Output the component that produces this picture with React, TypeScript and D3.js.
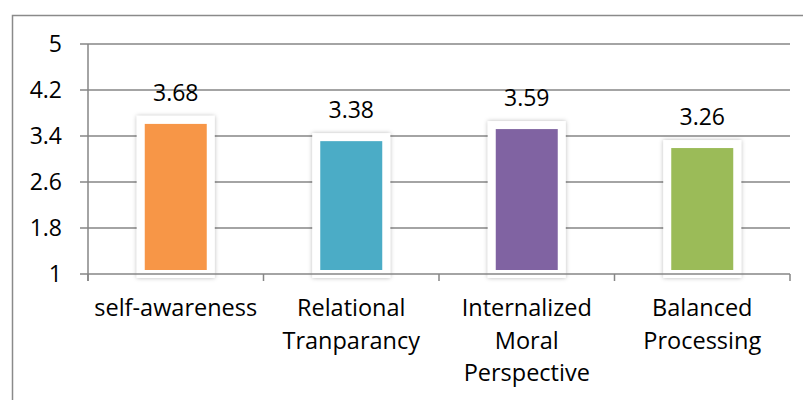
import React from "react";
import * as d3 from "d3";

const categories: string[][] = [
  ["self-awareness"],
  ["Relational", "Tranparancy"],
  ["Internalized", "Moral", "Perspective"],
  ["Balanced", "Processing"],
];
const values: number[] = [3.68, 3.38, 3.59, 3.26];
const valueLabels: string[] = ["3.68", "3.38", "3.59", "3.26"];
const barColors: string[] = ["#F79646", "#4BACC6", "#8064A2", "#9BBB59"];
const yTicks: number[] = [1, 1.8, 2.6, 3.4, 4.2, 5];
const yTickLabels: string[] = ["1", "1.8", "2.6", "3.4", "4.2", "5"];

const W = 803;
const H = 400;
const plotLeft = 88;
const plotRight = 790;
const plotTop = 44;
const plotBottom = 274;
const font = "'Open Sans', sans-serif";

export default function App() {
  const keys = categories.map((c) => c.join(" "));
  const x = d3.scaleBand<string>().domain(keys).range([plotLeft, plotRight]).padding(0);
  const y = d3.scaleLinear().domain([1, 5]).range([plotBottom, plotTop]);
  const barW = 70;
  const gridColor = "#868686";
  const boundaries = [...keys.map((k) => x(k) as number), plotRight];

  return (
    <svg
      width={W}
      height={H}
      style={{ position: "absolute", left: 0, top: 0, display: "block", background: "#fff" }}
    >
      <defs>
        <filter id="barGlow" x="-30%" y="-30%" width="160%" height="160%">
          <feDropShadow dx="0" dy="0" stdDeviation="2" floodColor="#000" floodOpacity="0.28" />
        </filter>
      </defs>
      {/* outer chart frame */}
      <rect x={12.5} y={15.5} width={W} height={H} fill="none" stroke="#8a8a8a" strokeWidth={1.5} />

      {/* gridlines with left ticks */}
      {yTicks.map((t, i) => (
        <g key={"g" + i}>
          {i > 0 && (
            <line x1={plotLeft - 8} x2={plotRight} y1={y(t)} y2={y(t)} stroke={gridColor} strokeWidth={1.5} />
          )}
          <text
            x={62}
            y={y(t)}
            dy="0.36em"
            textAnchor="end"
            fontFamily={font}
            fontSize={23}
            fill="#000"
          >
            {yTickLabels[i]}
          </text>
        </g>
      ))}

      {/* bars */}
      {values.map((v, i) => {
        const cx = (x(keys[i]) as number) + x.bandwidth() / 2;
        const top = y(v);
        return (
          <g key={"b" + i}>
            <rect
              x={cx - barW / 2}
              y={top}
              width={barW}
              height={plotBottom - top}
              fill={barColors[i]}
              stroke="#fff"
              strokeWidth={8}
              filter="url(#barGlow)"
            />
            <text
              x={cx}
              y={top - 19}
              textAnchor="middle"
              fontFamily={font}
              fontSize={23}
              fill="#000"
            >
              {valueLabels[i]}
            </text>
          </g>
        );
      })}

      {/* axes */}
      <line x1={plotLeft - 8} x2={plotRight} y1={plotBottom} y2={plotBottom} stroke={gridColor} strokeWidth={1.5} />
      <line x1={plotLeft} x2={plotLeft} y1={plotTop} y2={plotBottom + 7} stroke={gridColor} strokeWidth={1.5} />
      {boundaries.map((bx, i) => (
        <line key={"t" + i} x1={bx} x2={bx} y1={plotBottom} y2={plotBottom + 7} stroke={gridColor} strokeWidth={1.5} />
      ))}

      {/* category labels */}
      {categories.map((lines, i) => {
        const cx = (x(keys[i]) as number) + x.bandwidth() / 2;
        return (
          <text key={"c" + i} textAnchor="middle" fontFamily={font} fontSize={23.5} fill="#000">
            {lines.map((ln, j) => (
              <tspan key={j} x={cx} y={316 + j * 32.5}>
                {ln}
              </tspan>
            ))}
          </text>
        );
      })}
    </svg>
  );
}
